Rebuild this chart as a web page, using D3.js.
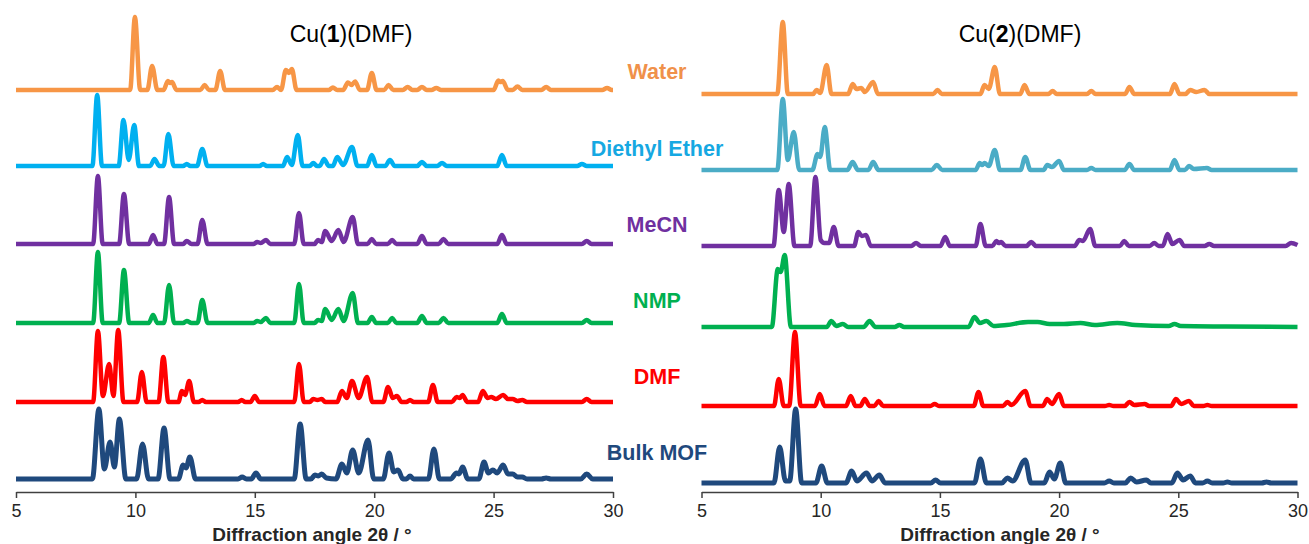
<!DOCTYPE html>
<html>
<head>
<meta charset="utf-8">
<script src="https://cdn.jsdelivr.net/npm/d3@7"></script>
<style>
  body { margin: 0; background: #fff; }
  svg { display: block; font-family: "Liberation Sans", Arial, sans-serif; }
</style>
</head>
<body>
<div class="chart"></div>
<script>
// sample names, top to bottom
var samples = ["Water", "Diethyl Ether", "MeCN", "NMP", "DMF", "Bulk MOF"];
var xTicks = [5, 10, 15, 20, 25, 30];

// stacking offsets (intensity units) for each pattern
var offsetsLeft = [402, 326, 248, 169, 90, 13];
var offsetsRight = [398, 322, 246, 165, 86, 9];

// Cu(1)(DMF) patterns, [2theta, intensity]
var leftWater = [[5,0],[9.78,0],[9.98,73],[10.2,0],[10.5,0],[10.7,24],[10.92,0],[11.18,0],[11.36,9],[11.45,7],[11.53,8],[11.72,0],
  [12.72,0],[12.9,5],[13.08,0],[13.35,0],[13.55,19],[13.75,0],[15.75,0],[15.93,3],[16.1,0],[16.3,20],[16.43,17],[16.55,21],[16.75,0],
  [18.1,0],[18.27,2.5],[18.45,0],[18.7,0],[18.9,7.5],[19.05,5],[19.2,8.5],[19.4,0],[19.7,0],[19.9,17],[20.1,0],[20.42,0],[20.6,5],[20.8,0],
  [21.2,0],[21.4,3],[21.6,0],[21.8,0],[22.0,3],[22.2,0],[22.4,0],[22.6,2],[22.8,0],[25.0,0],[25.2,9.5],[25.28,8],[25.38,9],[25.6,0],
  [25.8,0],[26.0,3.5],[26.2,0],[27.0,0],[27.2,3],[27.4,0],[29.55,0],[29.75,2],[29.95,0],[30,0]];
var leftEther = [[5,0],[8.2,0],[8.4,71],[8.6,0],[9.3,0],[9.5,46],[9.72,6],[9.95,41],[10.15,0],[10.62,0],[10.8,7],[11.0,0],
  [11.18,0],[11.38,32],[11.6,0],[12.0,0],[12.15,2],[12.3,0],[12.58,0],[12.8,17],[13.02,0],[15.2,0],[15.35,2],[15.5,0],
  [16.18,0],[16.35,9],[16.55,1],[16.8,31],[17.0,0],[17.3,0],[17.45,3],[17.6,0],[17.72,0],[17.9,7],[18.1,0],
  [18.27,0],[18.45,9],[18.7,1],[19.07,19],[19.3,0],[19.7,0],[19.9,11],[20.1,0],[20.46,0],[20.66,6],[20.86,0],
  [21.8,0],[22.0,4],[22.2,0],[22.64,0],[22.84,3],[23.04,0],[25.15,0],[25.35,11],[25.55,0],[28.5,0],[28.7,2],[28.9,0],[30,0]];
var leftMeCN = [[5,0],[8.23,0],[8.43,68],[8.63,0],[9.32,0],[9.52,50],[9.74,0],[10.56,0],[10.74,9],[10.92,0],[11.2,0],[11.41,47],[11.62,0],
  [12.0,0],[12.15,3],[12.35,0],[12.6,0],[12.8,24],[13.02,0],[14.95,0],[15.1,2],[15.25,1],[15.47,4],[15.65,0],[16.65,0],[16.85,31],[17.05,0],
  [17.5,0],[17.65,4],[17.8,2],[17.95,13],[18.22,3],[18.5,14],[18.72,2],[19.1,27],[19.32,0],[19.72,0],[19.9,5],[20.08,0],
  [20.57,0],[20.75,4],[20.93,0],[21.8,0],[22.0,8],[22.2,0],[22.7,0],[22.9,5],[23.1,0],[25.15,0],[25.35,9],[25.55,0],
  [28.7,0],[28.9,3],[29.1,0],[30,0]];
var leftNMP = [[5,0],[8.23,0],[8.43,71],[8.63,0],[9.32,0],[9.52,53],[9.74,0],[10.56,0],[10.74,8],[10.92,0],[11.2,0],[11.41,38],[11.62,0],
  [12.0,0],[12.15,2],[12.35,0],[12.6,0],[12.8,23],[13.02,0],[14.95,0],[15.1,2],[15.25,1],[15.47,5],[15.65,0],[16.65,0],[16.85,39],[17.05,0],
  [17.5,0],[17.65,3],[17.8,2],[17.95,14],[18.22,3],[18.5,14],[18.72,2],[19.1,30],[19.32,0],[19.72,0],[19.9,6],[20.08,0],
  [20.57,0],[20.75,5],[20.93,0],[21.8,0],[22.0,7],[22.2,0],[22.7,0],[22.9,5],[23.1,0],[25.15,0],[25.35,9],[25.55,0],
  [28.7,0],[28.9,3],[29.1,0],[30,0]];
var leftDMF = [[5,0],[8.23,0],[8.43,71],[8.64,6],[8.9,38],[9.08,6],[9.28,72],[9.5,0],[10.07,0],[10.27,30],[10.47,0],
  [10.97,0],[11.17,45],[11.38,0],[11.8,0],[11.95,11],[12.08,7],[12.25,21],[12.45,0],[12.65,0],[12.8,2],[12.95,0],
  [14.3,0],[14.45,2],[14.6,0],[14.82,0],[15.0,6],[15.18,0],[16.65,0],[16.85,38],[17.05,0],[17.3,0],[17.45,3],[17.62,2],[17.8,3],[17.95,0],
  [18.45,0],[18.65,11],[18.85,4],[19.07,21],[19.35,4],[19.7,25],[19.92,0],[20.38,0],[20.58,15],[20.78,4],[20.95,6],[21.15,0],
  [21.35,0],[21.5,2],[21.65,0],[22.26,0],[22.46,17],[22.66,0],[23.25,0],[23.45,5],[23.58,4],[23.7,7],[23.9,0],
  [24.35,0],[24.55,11],[24.75,4],[24.9,5],[25.1,3],[25.4,7],[25.6,3],[25.8,3],[26.0,1],[26.2,2],[26.4,0],
  [28.7,0],[28.9,3],[29.1,0],[30,0]];
var leftBulk = [[5,0],[8.2,0],[8.47,70],[8.7,10],[8.94,37],[9.12,12],[9.33,60],[9.6,0],[10.05,0],[10.3,35],[10.55,0],
  [10.95,0],[11.2,51],[11.45,0],[11.8,0],[12.0,14],[12.12,11],[12.28,22],[12.52,0],[14.3,0],[14.47,2],[14.65,0],
  [14.85,0],[15.05,6],[15.25,0],[16.65,0],[16.9,55],[17.15,0],[17.35,0],[17.52,4],[17.66,3],[17.8,5],[18.0,1],
  [18.4,0],[18.65,15],[18.85,6],[19.1,29],[19.35,6],[19.74,39],[19.98,0],[20.38,0],[20.62,26],[20.82,7],[21.0,9],[21.2,0],
  [21.35,0],[21.5,3],[21.65,0],[22.27,0],[22.5,30],[22.73,0],[23.2,0],[23.45,6],[23.55,5],[23.7,12],[23.92,0],
  [24.38,0],[24.6,17],[24.78,6],[24.97,9],[25.15,6],[25.4,14],[25.6,5],[25.8,5],[26.0,2],[26.2,2],[26.4,0],
  [27.0,0],[27.2,1],[27.4,0],[28.65,0],[28.9,5],[29.15,0],[30,0]];

// Cu(2)(DMF) patterns, [2theta, intensity]
var rightWater = [[5,0],[8.18,0],[8.41,72],[8.62,0],[9.68,0],[9.83,4],[9.98,1],[10.25,29],[10.45,0],
  [11.15,0],[11.34,10],[11.5,5],[11.7,6],[11.85,2],[12.2,12],[12.4,0],[14.72,0],[14.9,4],[15.08,0],
  [16.7,0],[16.87,9],[17.05,5],[17.3,27],[17.52,0],[18.37,0],[18.55,9],[18.75,0],[19.55,0],[19.73,3],[19.9,0],
  [21.17,0],[21.35,3],[21.53,0],[22.77,0],[22.95,7],[23.15,0],[24.65,0],[24.84,10],[25.05,0],
  [25.3,0],[25.5,4],[25.75,2],[26.1,4],[26.3,0],[30,0]];
var rightEther = [[5,0],[8.18,0],[8.41,71],[8.62,10],[8.87,38],[9.1,0],[9.65,0],[9.87,16],[9.98,13],[10.17,43],[10.4,0],
  [11.12,0],[11.34,8],[11.56,0],[12.0,0],[12.2,8],[12.42,0],[14.65,0],[14.87,5],[15.1,0],
  [16.5,0],[16.67,7],[16.77,5],[16.87,7],[17.05,4],[17.3,20],[17.52,0],[18.38,0],[18.58,13],[18.8,0],
  [19.35,0],[19.5,5],[19.7,3],[20.0,9],[20.2,0],[21.17,0],[21.35,2],[21.53,0],[22.75,0],[22.95,6],[23.15,0],
  [24.64,0],[24.84,10],[25.05,0],[25.28,0],[25.45,4],[25.65,1],[26.2,2],[26.4,0],[30,0]];
var rightMeCN = [[5,0],[8.02,0],[8.24,56],[8.45,14],[8.66,62],[8.9,0],[9.56,0],[9.78,69],[10.0,6],[10.15,3],[10.35,3],[10.55,19],[10.75,0],
  [11.4,0],[11.58,14],[11.72,10],[11.9,11],[12.1,0],[13.8,0],[14.0,3],[14.2,0],[15.02,0],[15.22,9],[15.42,0],
  [16.5,0],[16.7,22],[16.92,0],[17.2,0],[17.37,5],[17.47,3],[17.57,4],[17.75,0],[18.63,0],[18.83,4],[19.03,0],
  [20.65,0],[20.85,6],[21.0,5],[21.3,17],[21.52,0],[22.55,0],[22.73,5],[22.93,0],[23.8,0],[23.99,3],[24.18,0],
  [24.35,0],[24.55,12],[24.75,2],[25.05,6],[25.25,0],[26.1,0],[26.3,2],[26.5,0],[29.5,0],[29.73,3],[30,1]];
var rightNMP = [[5,0],[7.95,0],[8.2,58],[8.32,55],[8.49,72],[8.75,0],[10.25,0],[10.45,6],[10.65,1],[10.93,3],[11.15,0],
  [11.8,0],[12.05,6],[12.3,0],[13.1,0],[13.3,2],[13.5,0],[16.2,0],[16.45,10],[16.68,4],[16.95,6],[17.25,1],
  [17.8,2],[18.7,5],[19.1,5],[19.6,3],[20.2,3],[20.9,4],[21.5,2],[22.44,4],[23.2,2],[24.6,1],[24.84,3],[25.1,1],[27,0.5],[30,0]];
var rightDMF = [[5,0],[8.04,0],[8.24,27],[8.45,0],[8.68,0],[8.92,74],[9.16,0],[9.76,0],[9.96,12],[10.16,0],
  [11.06,0],[11.26,10],[11.46,0],[11.66,0],[11.85,7],[12.05,0],[12.25,0],[12.43,5],[12.62,0],[14.6,0],[14.78,2],[14.96,0],
  [16.42,0],[16.62,14],[16.82,0],[17.65,0],[17.83,4],[18.0,1],[18.58,15],[18.8,0],[19.32,0],[19.5,7],[19.7,2],[20.0,12],[20.2,0],
  [21.92,0],[22.1,1],[22.28,0],[22.75,0],[22.95,4],[23.15,1],[23.59,2],[23.78,0],[24.7,0],[24.9,7],[25.12,2],[25.45,5],[25.65,0],
  [26.05,0],[26.22,1],[26.4,0],[30,0]];
var rightBulk = [[5,0],[8.04,0],[8.28,36],[8.52,2],[8.7,2],[8.95,74],[9.2,0],[9.8,0],[10.04,17],[10.28,0],
  [11.06,0],[11.3,12],[11.52,2],[11.92,10],[12.15,2],[12.46,8],[12.7,0],[14.62,0],[14.82,3],[15.02,0],
  [16.45,0],[16.7,24],[16.95,0],[17.6,0],[17.83,5],[18.05,2],[18.58,23],[18.82,0],[19.38,0],[19.6,11],[19.8,4],[20.05,20],[20.28,0],
  [21.9,0],[22.1,2],[22.3,0],[22.78,0],[23.0,5],[23.25,1],[23.66,3],[23.85,0],[24.73,0],[24.96,10],[25.2,3],[25.5,7],[25.72,0],
  [26.02,0],[26.22,2],[26.42,0],[26.88,0],[27.06,1],[27.24,0],[28.5,0],[28.7,1],[28.9,0],[30,0]];

var leftPatterns = [leftWater, leftEther, leftMeCN, leftNMP, leftDMF, leftBulk];
var rightPatterns = [rightWater, rightEther, rightMeCN, rightNMP, rightDMF, rightBulk];

var leftColors = ["#F79646", "#00B0F0", "#7030A0", "#00B050", "#FF0000", "#1F497D"];
var rightColors = ["#F79646", "#4BACC6", "#7030A0", "#00B050", "#FF0000", "#1F497D"];
var labelColors = ["#F0914A", "#16A8E2", "#7030A0", "#00B050", "#FF0000", "#1F497D"];

const width = 1309, height = 544;
const axisY = 492;

var svg = d3.select(".chart").append("svg")
    .attr("width", width)
    .attr("height", height)
    .attr("viewBox", [0, 0, width, height]);

var y = d3.scaleLinear().domain([0, 480]).range([axisY, axisY - 480]);

var panels = [
  { range: [16, 613], patterns: leftPatterns, offsets: offsetsLeft, colors: leftColors, num: "1", titleX: 351, axisTitleX: 312 },
  { range: [701.5, 1297.5], patterns: rightPatterns, offsets: offsetsRight, colors: rightColors, num: "2", titleX: 1020, axisTitleX: 1000 }
];

panels.forEach(function(p) {
  var x = d3.scaleLinear().domain([5, 30]).range(p.range);

  var g = svg.append("g");

  p.patterns.forEach(function(data, i) {
    var line = d3.line()
        .x(d => x(d[0]))
        .y(d => y(d[1] + p.offsets[i]))
        .curve(d3.curveMonotoneX);

    g.append("path")
        .datum(data)
        .attr("d", line)
        .attr("fill", "none")
        .attr("stroke", p.colors[i])
        .attr("stroke-width", i == 5 ? 5 : 4.5)
        .attr("stroke-linejoin", "round")
        .attr("stroke-linecap", "butt");
  });

  // x axis
  var axis = svg.append("g")
      .attr("transform", `translate(0, ${axisY})`)
      .call(d3.axisBottom(x).tickValues(xTicks).tickSize(6).tickSizeOuter(0).tickPadding(6));

  axis.select(".domain").attr("stroke", "#404040").attr("stroke-width", 1.5);
  axis.selectAll(".tick line").attr("stroke", "#404040").attr("stroke-width", 1.5);
  axis.selectAll(".tick text")
      .attr("fill", "#262626")
      .style("font-size", "18px")
      .style("font-family", "Liberation Sans, Arial, sans-serif");

  svg.append("text")
      .attr("x", p.axisTitleX)
      .attr("y", 541)
      .attr("text-anchor", "middle")
      .attr("font-size", 19)
      .attr("font-weight", "bold")
      .attr("fill", "#262626")
      .text("Diffraction angle 2θ / °");

  // panel title
  var t = svg.append("text")
      .attr("x", p.titleX)
      .attr("y", 42)
      .attr("text-anchor", "middle")
      .attr("font-size", 23)
      .attr("fill", "#000");
  t.append("tspan").text("Cu(");
  t.append("tspan").attr("font-weight", "bold").text(p.num);
  t.append("tspan").text(")(DMF)");
});

// sample labels between the panels
var labelY = [79, 156, 232, 308, 384, 460];
svg.selectAll(".label")
    .data(samples)
    .join("text")
    .attr("class", "label")
    .attr("x", 657)
    .attr("y", (d, i) => labelY[i])
    .attr("text-anchor", "middle")
    .attr("font-size", 21.5)
    .attr("font-weight", "bold")
    .attr("fill", (d, i) => labelColors[i])
    .text(d => d);
</script>
</body>
</html>
